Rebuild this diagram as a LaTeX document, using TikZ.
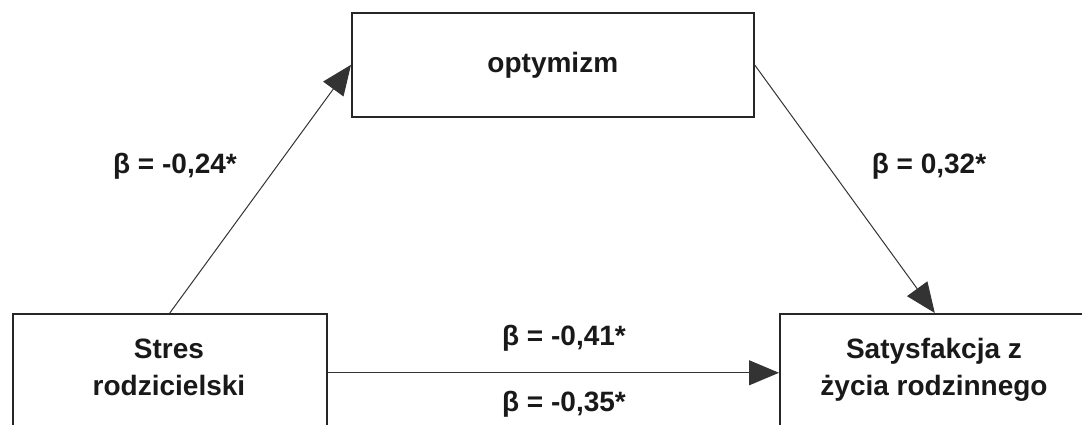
\documentclass[tikz,border=0pt]{standalone}
\usepackage{fontspec}
\setmainfont{Liberation Sans}
\usetikzlibrary{arrows.meta}
\begin{document}
\begin{tikzpicture}[x=1pt,y=-1pt,
  box/.style={draw=black!85, line width=1.6pt, fill=white, inner sep=0pt},
  txt/.style={font=\fontsize{28}{37}\selectfont\bfseries, align=center, inner sep=0pt, text=black!90},
  arr/.style={draw=black!80, line width=1pt, -{Triangle[length=30pt,width=25pt]}}]
\useasboundingbox (0,0) rectangle (1082,425);
\node[box, minimum width=402pt, minimum height=104pt, anchor=north west] (opt) at (351,12) {};
\node[txt] (optT) at (opt.center) {optymizm};
\node[box, minimum width=314pt, minimum height=118pt, anchor=north west] (stres) at (12,313) {};
\node[txt] (stresT) at (169,367) {Stres\\rodzicielski};
\node[box, minimum width=310pt, minimum height=118pt, anchor=north west] (sat) at (779,313) {};
\node[txt] (satT) at (934,370) {Satysfakcja z\\życia rodzinnego};
\draw[arr] (stres.north) -- (opt.west);
\draw[arr] (opt.east) -- (sat.north);
\draw[arr] (stres.east) -- (sat.west);
\node[txt] (l1) at (175,166) {β = -0,24*};
\node[txt] (l2) at (929,166) {β = 0,32*};
\node[txt] (l3) at (564,338) {β = -0,41*};
\node[txt] (l4) at (564,404) {β = -0,35*};
\end{tikzpicture}
\end{document}
